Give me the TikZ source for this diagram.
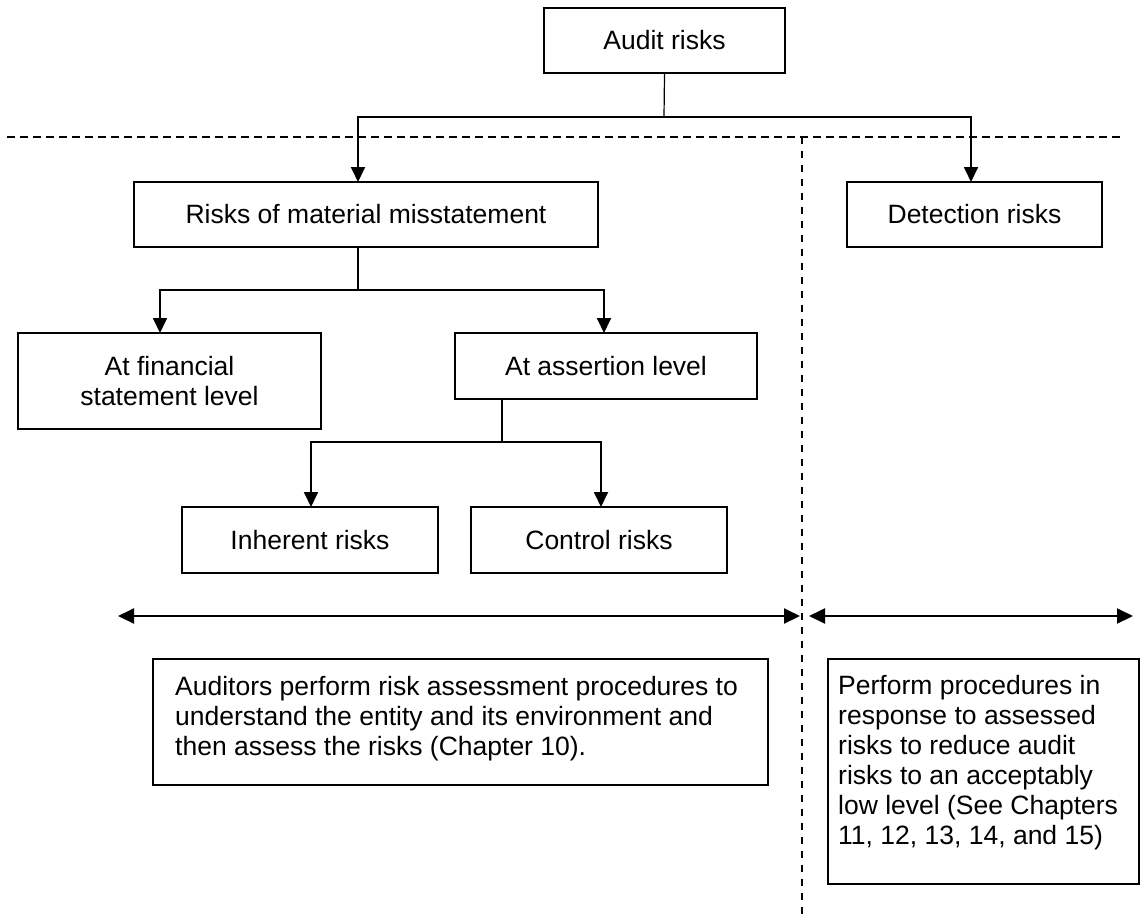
\documentclass[tikz,border=0pt]{standalone}
\usepackage{fontspec}
\setmainfont{Liberation Sans}
\usetikzlibrary{arrows.meta,calc}
\begin{document}
\begin{tikzpicture}[x=1pt,y=-1pt,
  lbl/.style={font=\fontsize{26.5}{30}\selectfont},
  box/.style={lbl, draw, line width=1.5pt, inner sep=0pt, align=center},
  frame/.style={draw, line width=1.5pt, inner sep=0pt},
  txt/.style={lbl, inner sep=0pt, align=left, anchor=north west},
  stub/.style={line width=1.2pt},
  arr/.style={line width=1.8pt, -{Triangle[length=15pt,width=14pt]}},
  span/.style={line width=2pt, {Triangle[length=16pt,width=15pt]}-{Triangle[length=16pt,width=15pt]}},
  hdash/.style={line width=1.3pt, dash pattern=on 8pt off 5pt},
  vdash/.style={line width=1.8pt, dash pattern=on 6.5pt off 7.5pt}
]
\useasboundingbox (0,0) rectangle (1140,914);

% dividing lines
\coordinate (hl) at (7,137);
\coordinate (hr) at (1123,137);
\coordinate (vt) at (802,137);
\coordinate (vb) at (802,914);
\draw[hdash] (hl) -- (hr);
\draw[vdash] (vt) -- (vb);

% boxes
\node[box, minimum width=241pt, minimum height=65pt] (audit) at (664.5,40.5) {Audit risks};
\node[box, minimum width=464pt, minimum height=65pt] (rmm) at (366,214.5) {Risks of material misstatement};
\node[box, minimum width=255pt, minimum height=65pt] (det) at (974.5,214.5) {Detection risks};
\node[box, minimum width=303pt, minimum height=96pt] (fin) at (169.5,381) {At financial\\statement level};
\node[box, minimum width=302pt, minimum height=66pt] (ass) at (606,366) {At assertion level};
\node[box, minimum width=256pt, minimum height=66pt] (inh) at (310,540) {Inherent risks};
\node[box, minimum width=256pt, minimum height=66pt] (ctl) at (599,540) {Control risks};

% description boxes
\node[frame, minimum width=615pt, minimum height=126pt] (lbox) at (460.5,722) {};
\node[frame, minimum width=311pt, minimum height=225pt] (rbox) at (983.5,771.5) {};
\node[txt] (ltext) at (175,676) {Auditors perform risk assessment procedures to\\understand the entity and its environment and\\then assess the risks (Chapter 10).};
\node[txt] (rtext) at (838,675) {Perform procedures in\\response to assessed\\risks to reduce audit\\risks to an acceptably\\low level (See Chapters\\11, 12, 13, 14, and 15)};

% tree connectors
\coordinate (j1) at (664,117);
\coordinate (rmmin) at (358,182);
\coordinate (detin) at (971,182);
\draw[stub] (audit.south) -- (j1);
\draw[arr] (j1) -| (rmmin);
\draw[arr] (j1) -| (detin);

\coordinate (rmmout) at (358,247);
\coordinate (j2) at (358,290);
\coordinate (finin) at (160,333);
\coordinate (assin) at (604,333);
\draw[stub] (rmmout) -- (j2);
\draw[arr] (j2) -| (finin);
\draw[arr] (j2) -| (assin);

\coordinate (assout) at (502,399);
\coordinate (j3) at (502,442);
\coordinate (inhin) at (311,507);
\coordinate (ctlin) at (601,507);
\draw[stub] (assout) -- (j3);
\draw[arr] (j3) -| (inhin);
\draw[arr] (j3) -| (ctlin);

% scope arrows
\coordinate (s1l) at (118,616);
\coordinate (s1r) at (800,616);
\coordinate (s2l) at (809,616);
\coordinate (s2r) at (1133,616);
\draw[span] (s1l) -- (s1r);
\draw[span] (s2l) -- (s2r);
\end{tikzpicture}
\end{document}
